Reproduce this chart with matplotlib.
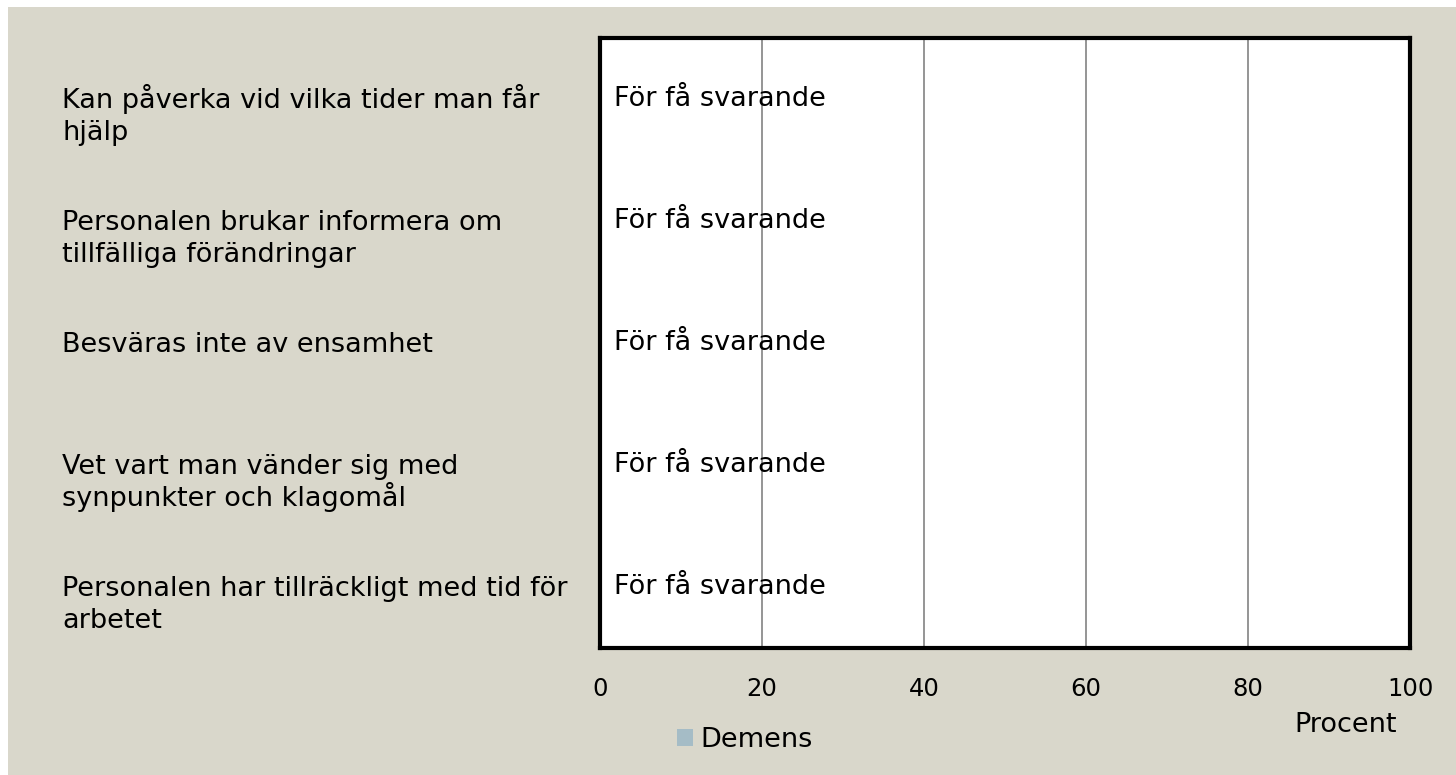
import matplotlib.pyplot as plt
from matplotlib.patches import Rectangle

# data
categories = ['Kan påverka vid vilka tider man får\nhjälp',
              'Personalen brukar informera om\ntillfälliga förändringar',
              'Besväras inte av ensamhet',
              'Vet vart man vänder sig med\nsynpunkter och klagomål',
              'Personalen har tillräckligt med tid för\narbetet']
demens = [0, 0, 0, 0, 0]
bar_labels = ['För få svarande'] * 5
xticks = [0, 20, 40, 60, 80, 100]

BG = '#d9d7cb'
FS = 19.5
plt.rcParams['font.family'] = ['DejaVu Sans']

fig = plt.figure(figsize=(14.56, 7.75), dpi=100, facecolor='white')
fig.patches.append(Rectangle((8/1456, 0), 1, 1 - 7/775, transform=fig.transFigure,
                             facecolor=BG, edgecolor='none', zorder=-10))

ax = fig.add_axes([600/1456, 1 - 648/775, 810/1456, 610/775])
ax.set_facecolor('white')
ypos = list(range(len(categories)))
bars = ax.barh(ypos, demens, height=0.6, color='#a5bcc6', label='Demens')
ax.set_xlim(0, 100)
ax.set_ylim(len(categories) - 0.5, -0.5)
ax.set_xticks(xticks)
ax.set_xticklabels([str(t) for t in xticks], fontsize=17.5)
ax.tick_params(axis='x', length=0, pad=21)
ax.set_yticks([])
ax.xaxis.grid(True, color='#8c8c8c', linewidth=1.3)
ax.set_axisbelow(True)
for s in ax.spines.values():
    s.set_linewidth(3)
    s.set_color('black')

for y, v, lab in zip(ypos, demens, bar_labels):
    ax.annotate(lab, (v, y), xytext=(10, 0), textcoords='offset points',
                va='center', ha='left', fontsize=FS)

# category labels on the left, one text per line (first line on the row)
line_step = 32 / 122
for y, cat in zip(ypos, categories):
    for i, line in enumerate(cat.split('\n')):
        ax.text(-538/810*100, y + 0.075 + i*line_step, line, ha='left', va='baseline',
                fontsize=FS, clip_on=False)

fig.text(1346/1456, 1 - 725/775, 'Procent', ha='center', va='center', fontsize=FS)
fig.legend(handles=[bars], labels=['Demens'], loc='center left',
           bbox_to_anchor=(677/1456, 1 - 740/775), borderaxespad=0, borderpad=0,
           frameon=False, fontsize=FS, handlelength=0.6, handleheight=0.6,
           handletextpad=0.25)

fig.savefig('out.png', dpi=100, facecolor=fig.get_facecolor())
